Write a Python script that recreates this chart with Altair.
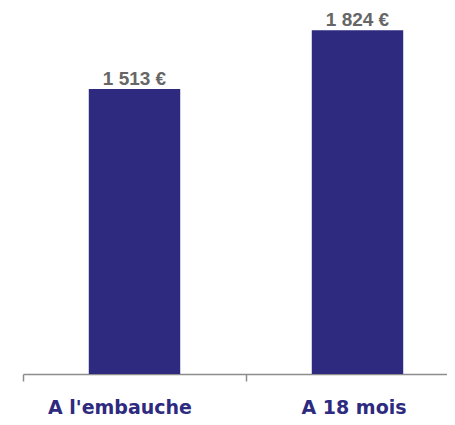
import altair as alt
import pandas as pd

categories = ["A l'embauche", "A 18 mois"]
values = [1513, 1824]
value_labels = ["1 513 €", "1 824 €"]

df = pd.DataFrame({"cat": categories, "val": values, "lab": value_labels})

x = alt.X("cat:N", sort=categories,
          scale=alt.Scale(range=[0, 446], paddingInner=0, paddingOuter=0),
          axis=alt.Axis(title=None, labelAngle=0, tickBand="extent",
                        labelFont="DejaVu Sans", labelFontWeight="bold", labelFontSize=19,
                        labelColor="#2d2a80", labelPadding=17, tickSize=7,
                        labelOffset={"condition": {"test": "datum.index < 0.5", "value": -15},
                                     "value": -4},
                        tickColor="#8c8c8c", domainColor="#8c8c8c", domainWidth=1.5,
                        tickWidth=1.5))
y = alt.Y("val:Q", scale=alt.Scale(domain=[0, 1900]), axis=None)

bars = alt.Chart(df).mark_bar(color="#2d2a80", width=alt.RelativeBandSize(0.41)).encode(x=x, y=y)
text = alt.Chart(df).mark_text(baseline="alphabetic", dy=-4, font="Liberation Sans",
                               fontWeight="bold", fontSize=19, color="#666666").encode(
    x=alt.X("cat:N", sort=categories), y=y, text="lab:N")

chart = (bars + text).properties(
    width=424, height=358,
    autosize=alt.AutoSizeParams(type="none"),
    padding={"left": 15, "right": 0, "top": 8, "bottom": 43},
).configure_view(stroke=None)

chart.save("out.html", embed_options={"renderer": "svg", "actions": False})
